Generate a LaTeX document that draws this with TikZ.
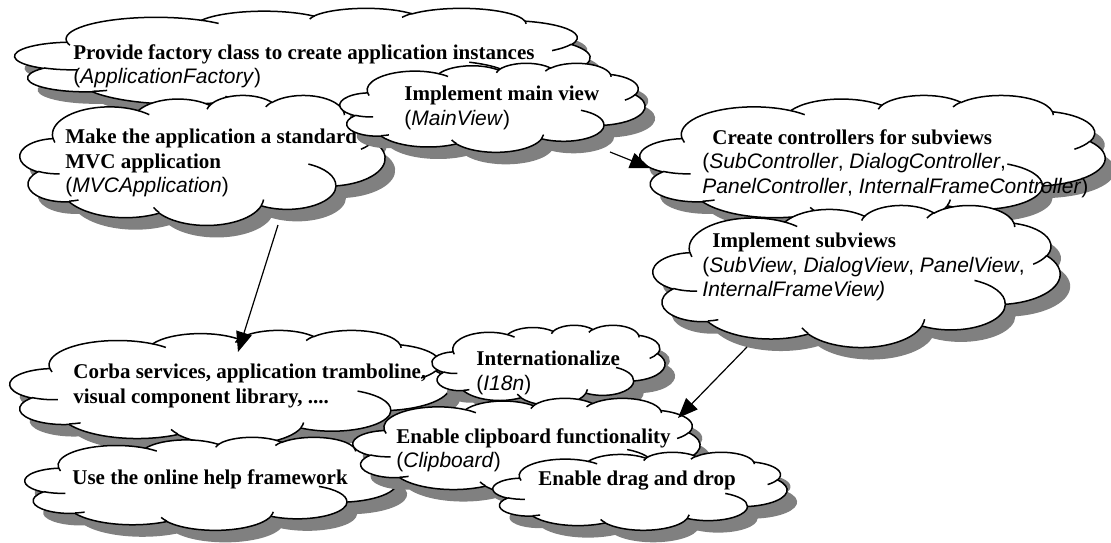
\documentclass[tikz,border=0pt]{standalone}
\usepackage{fontspec}
\setmainfont{Liberation Serif}
\setsansfont{Liberation Sans}
\usetikzlibrary{arrows.meta}
\definecolor{shadowgray}{HTML}{808080}
\newcommand{\plain}{\sffamily\mdseries}

% one puff of the cloud: x radius, y radius, start and sweep angle (seen from the centre)
\newcommand{\wcarc}[4]{%
  \pgfextra{%
    \pgfmathparse{atan2(#1*sin(#3),#2*cos(#3))}\xdef\wcS{\pgfmathresult}%
    \pgfmathparse{atan2(#1*sin(#3+#4),#2*cos(#3+#4))}\xdef\wcE{\pgfmathresult}%
    \pgfmathparse{\wcE+360*ceil((\wcS-\wcE)/360)}\xdef\wcE{\pgfmathresult}%
  }
  arc[start angle=\wcS, end angle=\wcE, x radius=#1, y radius=#2]
}
% cloud outline in a 43.2 x 43.2 box
\newcommand{\cloudpath}{(3.9,14.37)
  \wcarc{6.753}{9.19}{-190.4875}{123.7805}
  \wcarc{5.333}{7.267}{-144.1024}{89.9452}
  \wcarc{4.365}{5.945}{-145.8079}{99.723}
  \wcarc{4.857}{6.595}{-130.9861}{117.2417}
  \wcarc{5.333}{7.273}{-78.7089}{109.0269}
  \wcarc{6.775}{9.22}{-46.2673}{130.269}
  \wcarc{5.785}{7.867}{0.625}{114.0333}
  \wcarc{6.752}{9.215}{22.4516}{115.1726}
  \wcarc{7.72}{10.543}{66.2426}{75.711}
  \wcarc{4.36}{5.918}{-274.9421}{146.7356}
  \wcarc{4.345}{5.945}{-246.8285}{152.5189} -- cycle}
% the small strokes inside the cloud
\newcommand{\cloudlines}{%
  (4.693,26.177) \wcarc{4.345}{5.945}{86.742}{26.4295}
  (6.928,34.899) \wcarc{4.36}{5.918}{73.6105}{11.4475}
  (16.478,39.09) \wcarc{6.752}{9.215}{137.6242}{14.0811}
  (28.827,34.751) \wcarc{6.752}{9.215}{6.4533}{15.9984}
  (34.129,22.954) \wcarc{5.785}{7.867}{-70.2924}{70.9174}
  (41.798,15.354) \wcarc{5.333}{7.273}{30.318}{27.7515}
  (38.324,5.426) \wcarc{4.857}{6.595}{-13.7443}{14.8589}
  (29.078,3.952) \wcarc{4.857}{6.595}{-149.1815}{18.1954}
  (22.141,4.72) \wcarc{4.365}{5.945}{-163.4943}{17.6864}
  (14,5.192) \wcarc{6.753}{9.19}{-66.707}{12.3194}
  (4.127,15.789) \wcarc{6.753}{9.19}{157.6544}{11.8582}}

% cloud with shadow: name, left, top, right, bottom
\newcommand{\idea}[5]{%
  \pgfmathsetmacro\wcW{(#4-#2)/43.2}%
  \pgfmathsetmacro\wcH{(#5-#3)/43.2}%
  \begin{scope}[shift={(#2+10,#3+12)}, xscale=\wcW, yscale=\wcH]
    \fill[shadowgray] \cloudpath;
  \end{scope}
  \begin{scope}[shift={(#2,#3)}, xscale=\wcW, yscale=\wcH]
    \filldraw[fill=white, draw=black, line width=0.75pt] \cloudpath;
    \draw[line width=0.75pt] \cloudlines;
  \end{scope}
  \node[cloud area, minimum width={(#4-#2)*0.5pt}, minimum height={(#5-#3)*0.5pt}]
    (#1) at ({(#2+#4)/2},{(#3+#5)/2}) {};
}

\tikzset{
  cloud area/.style={inner sep=0pt, outer sep=0pt},
  idea text/.style={anchor=north west, inner sep=0pt, align=left,
    font=\fontsize{10.5}{12.25}\selectfont\bfseries},
  link/.style={line width=0.6pt, -{Triangle[length=10pt, width=8pt]}},
}

\begin{document}
\begin{tikzpicture}[x=0.5pt, y=-0.5pt]
  \useasboundingbox (0,0) rectangle (1111,542);

  % upper left group
  \idea{factory}{15}{8}{590}{110}
  \node[idea text] (factorytxt) at (73,44)
    {Provide factory class to create application instances\\
     {\plain(\textit{ApplicationFactory})}};

  \idea{mvc}{20}{95}{385}{225}
  \node[idea text] (mvctxt) at (65,129)
    {Make the application a standard\\MVC application\\
     {\plain(\textit{MVCApplication})}};

  \idea{mainview}{340}{63}{645}{152}
  \node[idea text] (mainviewtxt) at (404,86)
    {Implement main view\\{\plain(\textit{MainView})}};

  % right group
  \idea{ctrl}{640}{95}{1105}{225}
  \node[idea text] (ctrltxt) at (702,129)
    {\hspace*{5pt}Create controllers for subviews\\
     {\plain(\textit{SubController}, \textit{DialogController},}\\
     {\plain\textit{PanelController}, \textit{InternalFrameController})}};

  \idea{subviews}{653}{205}{1060}{347}
  \node[idea text] (subviewstxt) at (702,233)
    {\hspace*{5pt}Implement subviews\\
     {\plain(\textit{SubView}, \textit{DialogView}, \textit{PanelView},}\\
     {\plain\textit{InternalFrameView)}}};

  % lower group
  \idea{corba}{10}{330}{450}{445}
  \node[idea text] (corbatxt) at (73,364)
    {Corba services, application tramboline,\\visual component library, ....};

  \idea{i18n}{432}{325}{665}{405}
  \node[idea text] (i18ntxt) at (476,351)
    {Internationalize\\{\plain(\textit{I18n})}};

  \idea{help}{25}{437}{397}{530}
  \node[idea text] (helptxt) at (72,469) {Use the online help framework};

  \idea{clipboard}{353}{398}{700}{495}
  \node[idea text] (clipboardtxt) at (396,428)
    {Enable clipboard functionality\\{\plain(\textit{Clipboard})}};

  \idea{dnd}{493}{452}{787}{530}
  \node[idea text] (dndtxt) at (538,471) {Enable drag and drop};

  % links
  \draw[link] ([xshift=37.75pt]mvc.south) -- ([xshift=4pt, yshift=-11pt]corba.north);
  \draw[link] ([xshift=58.75pt]mainview.south) -- ([xshift=5pt, yshift=-4pt]ctrl.west);
  \draw[link] ([xshift=-54.75pt]subviews.south) -- ([xshift=-11pt, yshift=-10pt]clipboard.north east);
\end{tikzpicture}
\end{document}
